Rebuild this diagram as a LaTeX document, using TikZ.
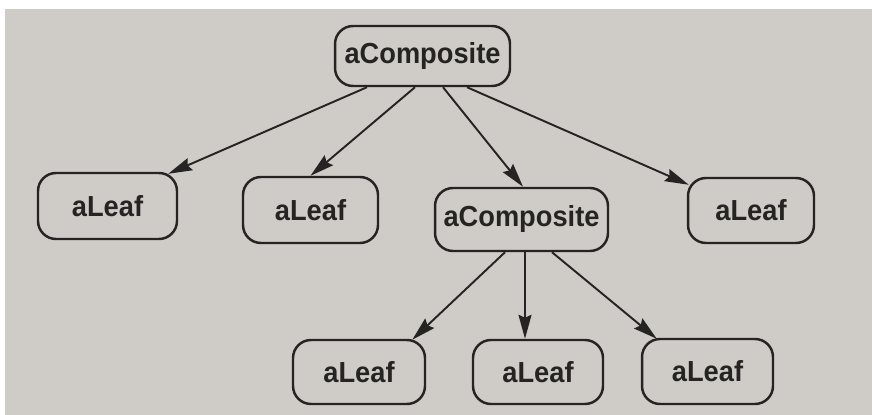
\documentclass[tikz,border=0pt]{standalone}
\usepackage{fontspec}
\setmainfont{Liberation Sans}[FakeStretch=0.94]
\usetikzlibrary{arrows.meta}
\definecolor{paper}{RGB}{207,204,199}
\definecolor{ink}{RGB}{38,36,35}
\begin{document}
\begin{tikzpicture}[x=0.02cm,y=-0.02cm,
  obj/.style={draw=ink, line width=1.4pt, rounded corners=0.36cm,
    text=ink, font=\fontsize{16.5}{19}\selectfont\bfseries,
    inner sep=0pt, minimum height=1.26cm},
  leafbox/.style={obj, minimum width=2.66cm},
  compbox/.style={obj, minimum width=3.48cm},
  arr/.style={draw=ink, line width=1.1pt,
    -{Stealth[length=4.8mm, width=2.6mm, inset=0.6mm]}}]
  % page
  \fill[white] (0,0) rectangle (872,415);
  \fill[paper] (5,9) rectangle (872,415);
  \useasboundingbox (0,0) rectangle (872,415);

  % objects
  \node[compbox, minimum width=3.5cm, minimum height=1.2cm] (top) at (422.5,56) {aComposite};
  \node[leafbox, minimum width=2.78cm, minimum height=1.32cm] (l1) at (107.5,206) {aLeaf};
  \node[leafbox, minimum width=2.70cm, minimum height=1.32cm] (l2) at (310.5,210) {aLeaf};
  \node[compbox, minimum width=3.46cm, minimum height=1.26cm] (c2) at (521.5,219.5) {aComposite};
  \node[leafbox, minimum width=2.52cm, minimum height=1.30cm] (l3) at (751,210.5) {aLeaf};
  \node[leafbox, minimum width=2.64cm, minimum height=1.28cm] (b1) at (359,372) {aLeaf};
  \node[leafbox, minimum width=2.60cm, minimum height=1.28cm] (b2) at (538,372) {aLeaf};
  \node[leafbox, minimum width=2.62cm, minimum height=1.30cm] (b3) at (707.5,371.5) {aLeaf};

  % references from the top composite
  \draw[arr] ([shift={(-55.5,0)}]top.south) -- ([shift={(-10,2)}]l1.north east);
  \draw[arr] ([shift={(-7.5,0)}]top.south) -- (l2.north);
  \draw[arr] ([shift={(20.5,0)}]top.south) -- ([shift={(1.5,0)}]c2.north);
  \draw[arr] ([shift={(44.5,0)}]top.south) -- ([shift={(2,8)}]l3.north west);

  % references from the inner composite
  \draw[arr] ([shift={(-16.5,0)}]c2.south) -- ([shift={(-14,1)}]b1.north east);
  \draw[arr] ([shift={(3.5,0)}]c2.south) -- ([shift={(-13,0)}]b2.north);
  \draw[arr] ([shift={(30.5,0)}]c2.south) -- ([shift={(16,1)}]b3.north west);
\end{tikzpicture}
\end{document}
